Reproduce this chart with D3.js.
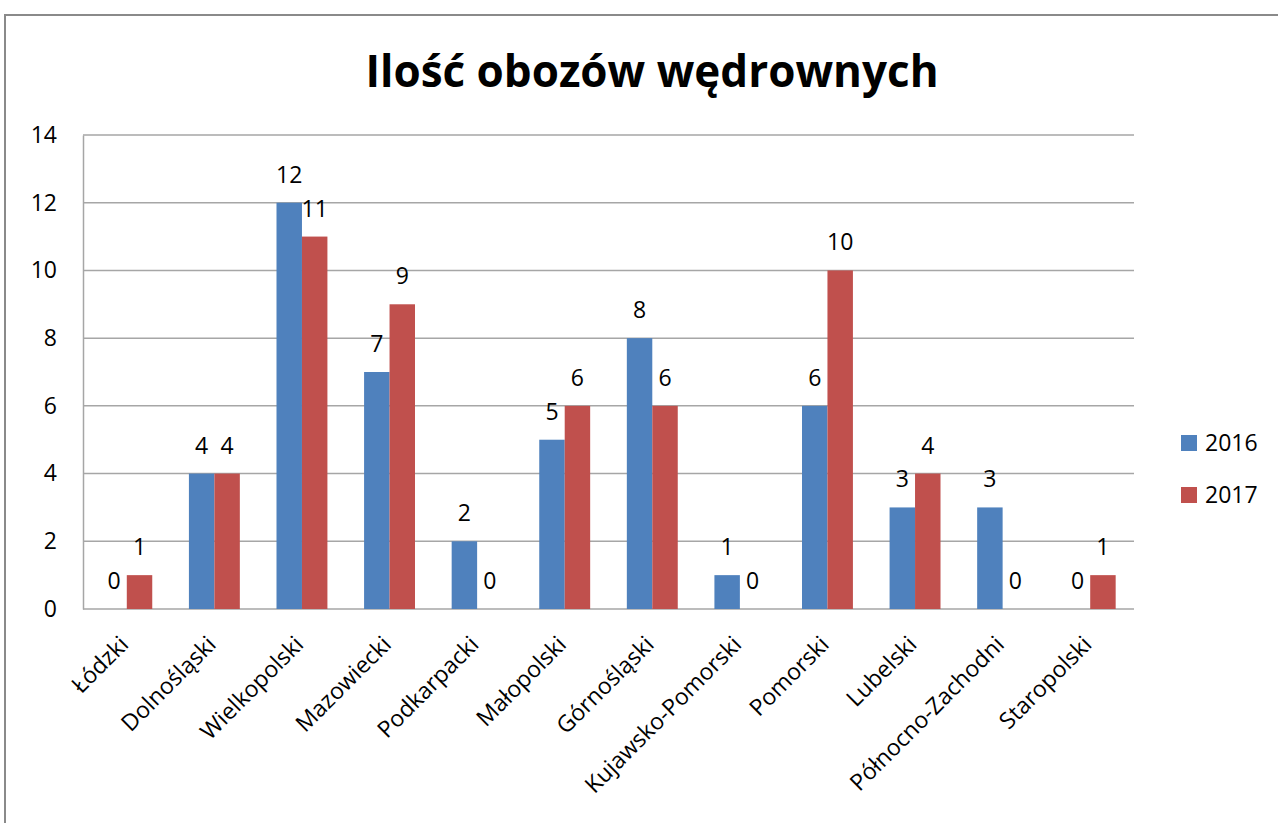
<!DOCTYPE html>
<html>
<head>
<meta charset="utf-8">
<script src="https://cdn.jsdelivr.net/npm/d3@7"></script>
<style>
  body { margin: 0; background: #fff; }
  svg text { font-family: "Open Sans", "DejaVu Sans", sans-serif; fill: #000; }
</style>
</head>
<body>
<div id="chart"></div>
<script>
// Data
const categories = ["Łódzki", "Dolnośląski", "Wielkopolski", "Mazowiecki", "Podkarpacki", "Małopolski",
  "Górnośląski", "Kujawsko-Pomorski", "Pomorski", "Lubelski", "Północno-Zachodni", "Staropolski"];
const years = ["2016", "2017"];
const values2016 = [0, 4, 12, 7, 2, 5, 8, 1, 6, 3, 3, 0];
const values2017 = [1, 4, 11, 9, 0, 6, 6, 0, 10, 4, 0, 1];
const yTicks = [0, 2, 4, 6, 8, 10, 12, 14];
const colors = ["#4F81BD", "#C0504D"];

const width = 1278, height = 823;
const plot = { left: 83, right: 1134, top: 135, bottom: 609 };
const fontSize = "23px";

const svg = d3.select("#chart").append("svg")
  .attr("width", width).attr("height", height);

// outer chart frame (runs off the right and bottom edges)
svg.append("rect")
  .attr("x", 5).attr("y", 15)
  .attr("width", width + 20).attr("height", height + 20)
  .attr("fill", "none").attr("stroke", "#8a8a8a").attr("stroke-width", 2);

const x = d3.scaleBand().domain(categories).range([plot.left, plot.right]).paddingInner(0).paddingOuter(0);
const x1 = d3.scaleBand().domain(years).range([0, x.bandwidth()]).paddingInner(0).paddingOuter(0.72);
const y = d3.scaleLinear().domain([0, 14]).range([plot.bottom, plot.top]);
const color = d3.scaleOrdinal(years, colors);

// gridlines
svg.append("g")
  .selectAll("line")
  .data(yTicks)
  .join("line")
  .attr("x1", plot.left).attr("x2", plot.right)
  .attr("y1", d => y(d)).attr("y2", d => y(d))
  .attr("stroke", "#a6a6a6").attr("stroke-width", 1.5);

// y axis
const yAxis = svg.append("g")
  .attr("transform", `translate(${plot.left},0)`)
  .call(d3.axisLeft(y).tickValues(yTicks).tickSize(0).tickPadding(26));
yAxis.select(".domain").attr("stroke", "#a6a6a6").attr("stroke-width", 1.5);
yAxis.selectAll("text").style("font-size", fontSize).attr("fill", "#000");

// x axis labels, rotated
const xAxis = svg.append("g")
  .attr("transform", `translate(0,${plot.bottom})`)
  .call(d3.axisBottom(x).tickSize(0).tickPadding(0));
xAxis.select(".domain").remove();
xAxis.selectAll("text")
  .style("font-size", fontSize)
  .attr("fill", "#000")
  .attr("text-anchor", "end")
  .attr("dy", "0")
  .attr("transform", "translate(3,37) rotate(-45)");

// bars
const series = years.map((yr, i) => ({ key: yr, values: i === 0 ? values2016 : values2017 }));
const groups = svg.append("g")
  .selectAll("g")
  .data(series)
  .join("g")
  .attr("fill", d => color(d.key));

groups.selectAll("rect")
  .data(d => d.values.map((v, j) => ({ key: d.key, cat: categories[j], v })))
  .join("rect")
  .attr("x", d => x(d.cat) + x1(d.key))
  .attr("y", d => y(d.v))
  .attr("width", x1.bandwidth())
  .attr("height", d => y(0) - y(d.v));

// data labels
groups.selectAll("text")
  .data(d => d.values.map((v, j) => ({ key: d.key, cat: categories[j], v })))
  .join("text")
  .attr("x", d => x(d.cat) + x1(d.key) + x1.bandwidth() / 2)
  .attr("y", d => y(d.v) - 20)
  .attr("text-anchor", "middle")
  .style("font-size", fontSize)
  .text(d => d.v);

// title
svg.append("text")
  .attr("x", 652).attr("y", 87)
  .attr("text-anchor", "middle")
  .style("font-size", "44px")
  .style("font-weight", "bold")
  .text("Ilość obozów wędrownych");

// legend
const legend = svg.append("g")
  .selectAll("g")
  .data(years)
  .join("g")
  .attr("transform", (d, i) => `translate(1181,${435 + i * 52})`);
legend.append("rect")
  .attr("width", 16).attr("height", 16)
  .attr("fill", d => color(d));
legend.append("text")
  .attr("x", 24).attr("y", 16)
  .style("font-size", fontSize)
  .text(d => d);
</script>
</body>
</html>
